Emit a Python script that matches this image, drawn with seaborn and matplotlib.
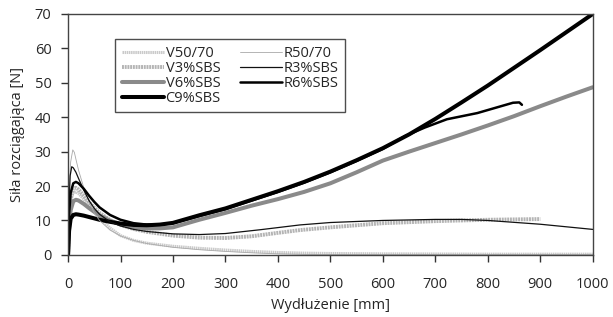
import matplotlib
matplotlib.use('Agg')
import matplotlib.pyplot as plt
import seaborn as sns

# series data: elongation [mm] and tensile force [N]
v5070_x = [0, 2, 5, 10, 15, 20, 30, 40, 50, 60, 80, 100, 125, 150, 200, 250, 300, 350, 400, 450, 500, 600, 700, 800, 900, 1000]
v5070_y = [0, 10, 16, 18.2, 18.3, 17.8, 16.2, 14.2, 12.4, 10.8, 7.8, 5.6, 4.2, 3.4, 2.5, 1.9, 1.4, 1.0, 0.7, 0.5, 0.4, 0.3, 0.25, 0.2, 0.2, 0.2]

v3_x = [0, 2, 5, 10, 15, 20, 30, 40, 50, 60, 80, 100, 125, 150, 200, 250, 300, 350, 400, 442, 500, 600, 700, 800, 900]
v3_y = [0, 10, 16, 19.3, 19.5, 19, 17.2, 15.3, 13.6, 12.2, 10.1, 8.7, 7.5, 6.7, 5.6, 5.0, 4.9, 5.4, 6.4, 7.2, 8.0, 9.2, 9.8, 10.2, 10.4]

v6_x = [0, 2, 5, 10, 15, 20, 30, 40, 50, 60, 80, 100, 125, 150, 175, 200, 250, 300, 350, 400, 450, 500, 550, 600, 650, 700, 750, 800, 850, 900, 950, 1000]
v6_y = [0, 8, 13, 15.6, 16, 15.8, 14.8, 13.6, 12.5, 11.5, 9.9, 8.9, 8.1, 7.7, 7.7, 8.0, 10.2, 12.2, 14.3, 16.2, 18.3, 20.8, 24.0, 27.4, 30.0, 32.5, 35.0, 37.6, 40.3, 43.2, 46.0, 48.7]

c9_x = [0, 2, 5, 10, 15, 20, 30, 40, 50, 60, 80, 100, 125, 150, 175, 200, 250, 300, 350, 400, 450, 500, 550, 600, 650, 700, 750, 800, 900, 1000]
c9_y = [0, 7, 10.5, 11.6, 11.8, 11.7, 11.4, 11.0, 10.6, 10.2, 9.6, 9.1, 8.7, 8.6, 8.8, 9.3, 11.5, 13.5, 16.0, 18.5, 21.2, 24.2, 27.5, 31.0, 35.0, 39.5, 44.3, 49.2, 59.5, 70.0]

r5070_x = [0, 2, 5, 9, 12, 15, 20, 30, 40, 50, 60, 80, 100, 125, 150, 200, 250, 300, 350, 400, 450, 500, 600, 700, 800, 900, 1000]
r5070_y = [0, 18, 27, 30.5, 29.8, 27.8, 24.6, 19.5, 15.3, 12.2, 10, 7.2, 5.5, 4.2, 3.3, 2.2, 1.5, 1.0, 0.6, 0.3, 0.15, 0.1, 0.1, 0.1, 0.1, 0.1, 0.1]

r3_x = [0, 2, 4, 7, 10, 15, 20, 30, 40, 50, 60, 80, 100, 125, 150, 200, 250, 300, 366, 442, 500, 600, 700, 750, 800, 900, 1000]
r3_y = [0, 15, 23, 25.6, 25.3, 24, 22.2, 18.8, 15.8, 13.5, 11.8, 9.6, 8.4, 7.4, 6.8, 6.1, 5.9, 6.2, 7.3, 8.7, 9.4, 10.0, 10.3, 10.3, 10.0, 8.9, 7.4]

r6_x = [0, 2, 5, 10, 15, 20, 30, 40, 50, 60, 80, 100, 125, 150, 175, 200, 250, 300, 350, 400, 450, 500, 550, 600, 642, 680, 722, 780, 823, 848, 860, 865]
r6_y = [0, 12, 18, 20.8, 21.2, 20.8, 19.2, 17.2, 15.4, 13.8, 11.6, 10.2, 9.2, 8.8, 8.8, 9.2, 11.3, 13.3, 15.8, 18.3, 21.0, 24.0, 27.3, 30.8, 34.5, 37.0, 39.4, 41.2, 43.1, 44.2, 44.3, 43.6]

sns.set_theme(style='white')
plt.rcParams['font.family'] = ['Open Sans', 'DejaVu Sans']

fig, ax = plt.subplots(figsize=(6.13, 3.17), dpi=100)
fig.subplots_adjust(left=0.111, right=0.967, top=0.956, bottom=0.196)

series = [
    ('V50/70', v5070_x, v5070_y, '#cacaca', 2.2, (0, (0.5, 0.2))),
    ('V3%SBS', v3_x, v3_y, '#b4b4b4', 2.8, (0, (0.5, 0.2))),
    ('V6%SBS', v6_x, v6_y, '#8a8a8a', 2.9, '-'),
    ('C9%SBS', c9_x, c9_y, '#000000', 2.9, '-'),
    ('R50/70', r5070_x, r5070_y, '#a8a8a8', 0.6, '-'),
    ('R3%SBS', r3_x, r3_y, '#111111', 0.9, '-'),
    ('R6%SBS', r6_x, r6_y, '#000000', 1.8, '-'),
]

for name, xs, ys, col, lw, ls in series:
    sns.lineplot(x=xs, y=ys, ax=ax, color=col, linewidth=lw, linestyle=ls,
                 label=name, sort=False)

ax.set_xlim(0, 1000)
ax.set_ylim(0, 70)
ax.set_xticks(range(0, 1001, 100))
ax.set_yticks(range(0, 71, 10))
ax.tick_params(axis='both', which='major', labelsize=10.5, length=5, width=1,
               direction='out', bottom=True, left=True, color='#333333')
ax.tick_params(axis='x', pad=11)
ax.tick_params(axis='y', pad=7)
for s in ax.spines.values():
    s.set_color('#444444')
    s.set_linewidth(1)

ax.set_xlabel('Wydłużenie [mm]', fontsize=10.5, labelpad=4)
ax.set_ylabel('Siła rozciągająca [N]', fontsize=10.5, labelpad=7)

leg = ax.legend(ncol=2, loc='upper left', bbox_to_anchor=(0.09, 0.895), fontsize=10.5,
                handlelength=2.9, handletextpad=0.1, columnspacing=1.3,
                labelspacing=0.0, frameon=True, fancybox=False,
                borderpad=0.45, borderaxespad=0)
leg.get_frame().set_edgecolor('#222222')
leg.get_frame().set_linewidth(1)

plt.savefig('out.png', dpi=100)
